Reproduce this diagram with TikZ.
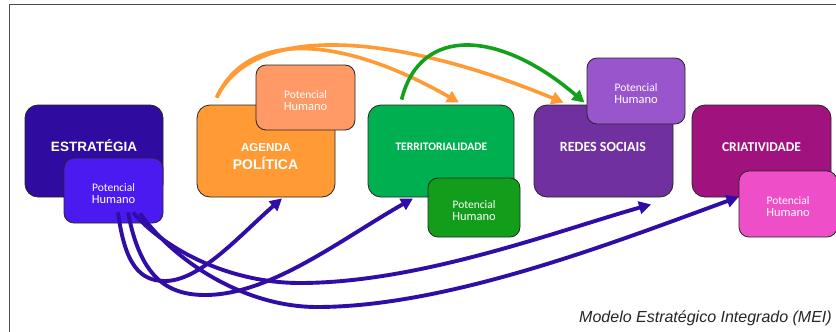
\documentclass[tikz,border=0pt]{standalone}
\usepackage{fontspec}
\setmainfont{Carlito}
\newfontfamily\arialf{Liberation Sans}
\usetikzlibrary{arrows.meta}
\definecolor{cEst}{HTML}{2F0B9F}
\definecolor{cEstP}{HTML}{4A1AF0}
\definecolor{cAg}{HTML}{FF9A35}
\definecolor{cAgP}{HTML}{FF9966}
\definecolor{cTe}{HTML}{00B050}
\definecolor{cTeP}{HTML}{129E1A}
\definecolor{cRs}{HTML}{7030A0}
\definecolor{cRsP}{HTML}{9955CC}
\definecolor{cCr}{HTML}{A0137E}
\definecolor{cCrP}{HTML}{EE4FC8}
\definecolor{cArrP}{HTML}{300DA6}
\definecolor{cArrO}{HTML}{FF9A35}
\definecolor{cArrG}{HTML}{13A01B}
\newcommand\phtxt{{\fontsize{11.5}{14.5}\selectfont Potencial}\\{\fontsize{12.5}{14.5}\selectfont Humano}}
\begin{document}
\begin{tikzpicture}[x=1pt,y=-1pt,
  bigbox/.style={draw=black!85, line width=0.8pt, rounded corners=13pt, minimum width=138pt, minimum height=92pt, inner sep=0pt},
  phbox/.style={draw=black!85, line width=0.8pt, rounded corners=10pt, minimum width=99pt, minimum height=65pt, inner sep=0pt},
  phlab/.style={label={[text=white, align=center, yshift=-3pt]center:\phtxt}},
  bigtxt/.style={text=white, anchor=base, inner sep=0pt},
  parr/.style={draw=cArrP, line width=3.9pt, -{Triangle[length=12pt,width=12.5pt]}},
  oarr/.style={draw=cArrO, line width=3.6pt, -{Triangle[length=12pt,width=12.5pt]}},
  garr/.style={draw=cArrG, line width=3.6pt, -{Triangle[length=12pt,width=12.5pt]}}
]
\useasboundingbox (0,0) rectangle (836,332);
\fill[white] (0,0) rectangle (836,332);
\draw[black!70, line width=1pt] (9,333) -- (9,4) -- (837,4);

% main boxes
\node[bigbox, fill=cEst] (est) at (94,151) {};
\node[bigbox, fill=cAg] (ag) at (266,151) {};
\node[bigbox, fill=cTe, minimum width=146pt] (te) at (441,151) {};
\node[bigbox, fill=cRs, minimum width=139pt] (rs) at (603.5,151) {};
\node[bigbox, fill=cCr, minimum width=139pt] (cr) at (761.5,151) {};

% main texts
\node[bigtxt, font=\arialf\bfseries\fontsize{13.5}{16}\selectfont] (estT) at (94,151.7) {ESTRATÉGIA};
\node[bigtxt, font=\arialf\bfseries\fontsize{11.5}{14}\selectfont] (agT1) at (266,151.7) {AGENDA};
\node[bigtxt, font=\arialf\bfseries\fontsize{14}{17}\selectfont] (agT2) at (265.5,169) {POLÍTICA};
\node[bigtxt, font=\bfseries\fontsize{11.5}{14}\selectfont] (teT) at (441.4,150) {TERRITORIALIDADE};
\node[bigtxt, font=\bfseries\fontsize{14}{17}\selectfont] (rsT) at (603,151.7) {REDES SOCIAIS};
\node[bigtxt, font=\bfseries\fontsize{13.5}{16}\selectfont] (crT) at (761.5,151.7) {CRIATIVIDADE};

% potencial humano boxes
\node[phbox, fill=cEstP, phlab] (phE) at (113.5,190.5) {};
\node[phbox, fill=cAgP, phlab] (phA) at (305.5,97.5) {};
\node[phbox, fill=cTeP, phlab, minimum width=92pt, minimum height=59pt] (phT) at (474,207.5) {};
\node[phbox, fill=cRsP, phlab, minimum width=98pt, minimum height=66pt] (phR) at (636,91) {};
\node[phbox, fill=cCrP, phlab, minimum width=98pt, minimum height=66pt] (phC) at (788,204) {};

% orange and green arrows
\draw[oarr] ([shift={(20,-7)}]ag.north west) .. controls (250,25) and (350,40) .. ([shift={(18,-2)}]te.north);
\draw[oarr] ([shift={(20,-7)}]ag.north west) .. controls (255,20) and (400,35) .. ([shift={(-40,-2)}]rs.north);
\draw[garr] ([shift={(34,-5)}]te.north west) .. controls (420,25) and (500,30) .. ([shift={(-19,-2)}]rs.north);

% purple arrows
\draw[parr] ([shift={(4.5,-11)}]phE.south) .. controls (125,265) and (140,281) .. (165,281) .. controls (200,281) and (240,235) .. ([shift={(16,1)}]ag.south);
\draw[parr] ([shift={(14.5,-11)}]phE.south) .. controls (140,275) and (165,295) .. (205,295) .. controls (270,295) and (340,240) .. ([shift={(-28,1)}]te.south);
\draw[parr] ([shift={(19.5,-11)}]phE.south) .. controls (165,250) and (230,283) .. (300,283) .. controls (420,283) and (560,230) .. ([shift={(47.5,7)}]rs.south);
\draw[parr] ([shift={(26.5,-10)}]phE.south) .. controls (175,262) and (245,307) .. (317,307) .. controls (450,307) and (620,240) .. ([shift={(0,-7)}]phC.west);

% caption
\node[anchor=base east, inner sep=0pt, text=black!85, font=\arialf\itshape\fontsize{16}{19}\selectfont] (cap) at (832,322.7) {Modelo Estratégico Integrado (MEI)};
\end{tikzpicture}
\end{document}
